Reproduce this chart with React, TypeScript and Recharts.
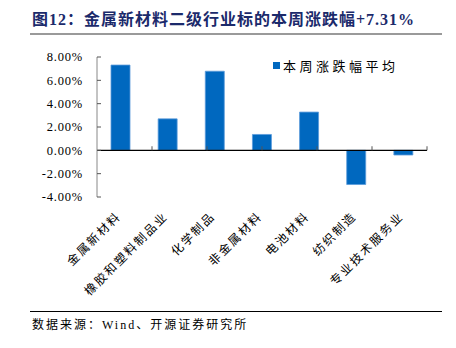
import React from 'react';
import { BarChart, Bar, XAxis, YAxis, ReferenceLine } from 'recharts';

const categories = ['金属新材料', '橡胶和塑料制品业', '化学制品', '非金属材料', '电池材料', '纺织制造', '专业技术服务业'];
const weeklyChange = [7.31, 2.70, 6.78, 1.36, 3.28, -2.93, -0.40];
const yTicks = [-4, -2, 0, 2, 4, 6, 8];
const boundaries = [1, 2, 3, 4, 5, 6, 7];

const BLUE = '#0068BF';
const SERIF = '"Liberation Serif", "Times New Roman", "Noto Sans CJK SC", serif';
const CJK = '"Noto Sans CJK SC", "Liberation Serif", sans-serif';

const data = categories.map((name, i) => ({ name, value: weeklyChange[i] }));

// rotated category labels, ending just under each category centre
const CategoryTick = ({ x, y, payload }: any) => (
  <text
    x={x + 1}
    y={y + 12}
    transform={`rotate(-45, ${x + 1}, ${y + 12})`}
    textAnchor="end"
    fontSize={12}
    letterSpacing={2}
    fontFamily={CJK}
    fill="#000"
  >
    {payload.value}
  </text>
);

export default function App() {
  return (
    <div style={{ position: 'fixed', left: 0, top: 0, width: 456, height: 348, background: '#fff' }}>
      <div
        style={{
          position: 'absolute', left: 32, top: 10, lineHeight: '20px',
          fontFamily: SERIF, fontWeight: 'bold', fontSize: 16, letterSpacing: 1, color: '#1B2A6B', whiteSpace: 'nowrap',
        }}
      >
        图12：金属新材料二级行业标的本周涨跌幅+7.31%
      </div>
      <div style={{ position: 'absolute', left: 30, top: 33, width: 412, height: 2, background: '#9a9a9a' }} />

      <BarChart width={456} height={348} data={data} margin={{ top: 57, right: 29, left: 0, bottom: 11 }}>
        <XAxis
          dataKey="name"
          axisLine={false}
          tickLine={false}
          interval={0}
          height={140}
          tick={<CategoryTick />}
        />
        <XAxis xAxisId="b" type="number" domain={[0, 7]} hide />
        <YAxis
          width={97}
          domain={[-4, 8]}
          ticks={yTicks}
          tickFormatter={(v) => `${v.toFixed(2)}%`}
          tickSize={-4}
          tickMargin={18}
          axisLine={{ stroke: '#888' }}
          tickLine={{ stroke: '#555' }}
          tick={{ fontSize: 12.5, fontFamily: SERIF, fill: '#000', letterSpacing: 0.8 }}
        />
        <Bar dataKey="value" barSize={19} fill={BLUE} stroke="#5A9BDA" strokeWidth={0.8} isAnimationActive={false} />
        <ReferenceLine y={0} stroke="#000" strokeWidth={1.2} />
        {boundaries.map((b) => (
          <ReferenceLine
            key={b}
            xAxisId="b"
            segment={[{ x: b, y: 0 }, { x: b, y: 0.35 }]}
            stroke="#555"
          />
        ))}
      </BarChart>

      <div style={{ position: 'absolute', left: 273, top: 62, width: 7, height: 7, background: BLUE }} />
      <div
        style={{
          position: 'absolute', left: 283, top: 57, lineHeight: '17px',
          fontFamily: CJK, fontSize: 13, letterSpacing: 3.5, color: '#000', whiteSpace: 'nowrap',
        }}
      >
        本周涨跌幅平均
      </div>

      <div style={{ position: 'absolute', left: 30, top: 311, width: 412, height: 1, background: '#000' }} />
      <div
        style={{
          position: 'absolute', left: 32, top: 317, lineHeight: '16px',
          fontFamily: SERIF, fontSize: 12, letterSpacing: 2, color: '#000', whiteSpace: 'nowrap',
        }}
      >
        数据来源：Wind、开源证券研究所
      </div>
    </div>
  );
}
